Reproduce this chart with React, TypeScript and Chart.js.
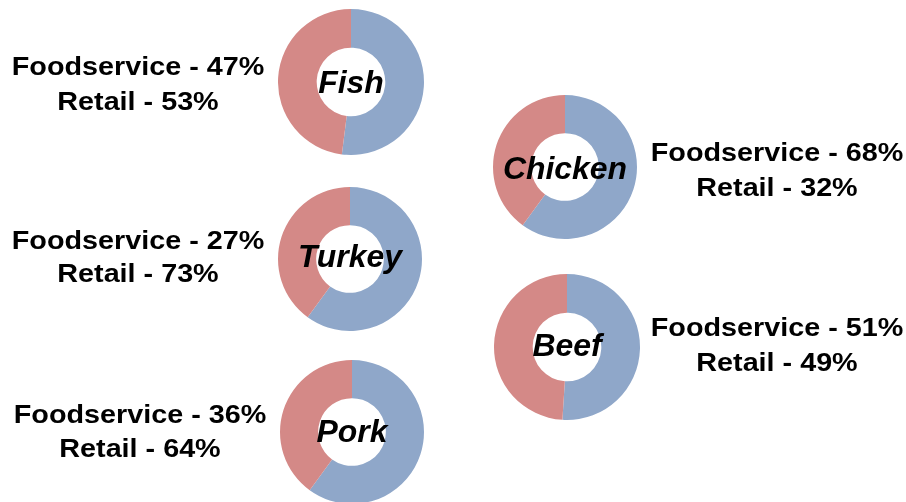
import React, { useEffect, useRef } from "react";
import { Chart, registerables } from "chart.js";

Chart.register(...registerables);

const meats = ["Fish", "Turkey", "Pork", "Chicken", "Beef"];
const foodservicePct = [47, 27, 36, 68, 51];
const retailPct = [53, 73, 64, 32, 49];
// slice sizes as drawn in the picture (blue first, clockwise from top)
const blueSlice = [52, 60, 60, 60, 51];
const redSlice = [48, 40, 40, 40, 49];

const BLUE = "rgb(143,167,201)";
const RED = "rgb(212,137,135)";

// layout
const pieCenters = [
  [351, 82],
  [350, 259],
  [352, 432],
  [565, 167],
  [567, 347],
];
const pieRadius = [73, 72, 72, 72, 73];
const labelX = [138, 138, 140, 777, 777];
const labelY1 = [65.5, 239.5, 414, 152, 327];
const labelY2 = [100.5, 273, 448, 187, 362];
const centerTextY = [82, 256, 431, 168, 345];

function Donut({ idx }: { idx: number }) {
  const ref = useRef<HTMLCanvasElement | null>(null);
  const r = pieRadius[idx];
  useEffect(() => {
    if (!ref.current) return;
    const chart = new Chart(ref.current, {
      type: "doughnut",
      data: {
        labels: ["Retail", "Foodservice"],
        datasets: [
          {
            data: [blueSlice[idx], redSlice[idx]],
            backgroundColor: [BLUE, RED],
            borderWidth: 0,
            hoverOffset: 0,
          },
        ],
      },
      options: {
        responsive: false,
        animation: false,
        cutout: "47%",
        layout: { padding: 0 },
        plugins: { legend: { display: false }, tooltip: { enabled: false } },
        events: [],
      },
    });
    return () => chart.destroy();
  }, [idx]);
  const [cx, cy] = pieCenters[idx];
  return (
    <canvas
      ref={ref}
      width={r * 2}
      height={r * 2}
      style={{ position: "absolute", left: cx - r, top: cy - r, width: r * 2, height: r * 2 }}
    />
  );
}

const textBase: React.CSSProperties = {
  position: "absolute",
  whiteSpace: "nowrap",
  fontFamily: "'Liberation Sans', Arial, sans-serif",
  fontWeight: "bold",
  lineHeight: 1,
  color: "#000",
};

function Label({ x, y, text, size, italic, sx }: { x: number; y: number; text: string; size: number; italic?: boolean; sx: number }) {
  return (
    <div
      style={{
        ...textBase,
        left: x,
        top: y,
        fontSize: size,
        fontStyle: italic ? "italic" : "normal",
        transform: `translate(-50%, -50%) scaleX(${sx})`,
      }}
    >
      {text}
    </div>
  );
}

export default function App() {
  return (
    <div style={{ position: "fixed", left: 0, top: 0, width: 906, height: 502, background: "#fff", overflow: "hidden" }}>
      {meats.map((m, i) => (
        <Donut key={m} idx={i} />
      ))}
      {meats.map((m, i) => (
        <Label key={m + "c"} x={pieCenters[i][0]} y={centerTextY[i]} text={m} size={31} italic sx={1.03} />
      ))}
      {meats.map((m, i) => (
        <React.Fragment key={m + "l"}>
          <Label x={labelX[i]} y={labelY1[i]} text={`Foodservice - ${foodservicePct[i]}%`} size={25} sx={1.15} />
          <Label x={labelX[i]} y={labelY2[i]} text={`Retail - ${retailPct[i]}%`} size={25} sx={1.15} />
        </React.Fragment>
      ))}
    </div>
  );
}
